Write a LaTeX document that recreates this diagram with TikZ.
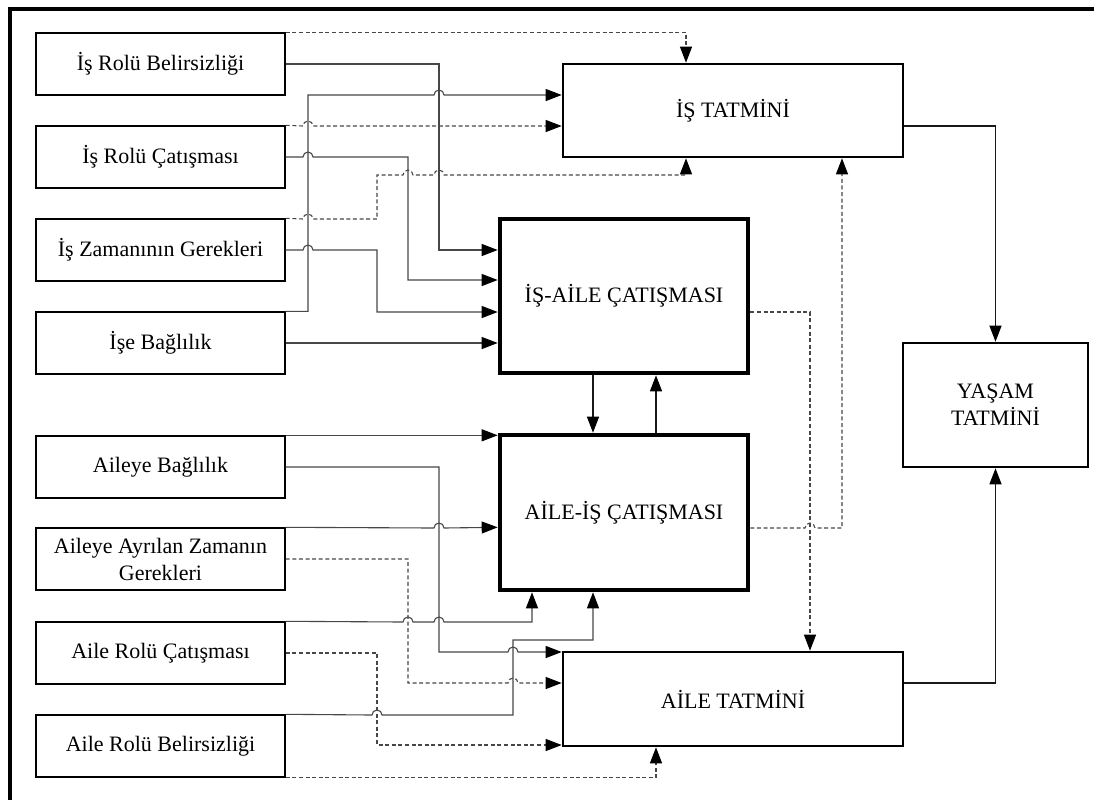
\documentclass[tikz,border=0pt]{standalone}
\usepackage{fontspec}
\setmainfont{Liberation Serif}
\usetikzlibrary{arrows.meta}

\begin{document}
\begin{tikzpicture}[
  x=0.5pt, y=-0.5pt,
  txt/.style={font=\fontsize{11}{13.5}\selectfont, align=center, inner sep=0pt},
  lbox/.style={txt, draw, line width=0.7pt, minimum width=124.5pt, minimum height=31pt},
  sbox/.style={txt, draw, line width=1.3pt},
  cbox/.style={txt, draw, line width=2.3pt},
  ln/.style={draw=black!72, line width=0.55pt},
  dsh/.style={ln, dash pattern=on 2pt off 1.3pt},
  blk/.style={draw=black!90, line width=0.6pt},
  arr/.style={-{Triangle[length=8pt,width=6pt,fill=black,color=black]}}
]
\useasboundingbox (0,0) rectangle (1094,800);

% frame
\draw[line width=2.2pt, line join=miter] (1094,9) -- (10,9) -- (10,800);

% work-side factors
\node[lbox] (w1) at (160.5,64)  {İş Rolü Belirsizliği};
\node[lbox] (w2) at (160.5,157) {İş Rolü Çatışması};
\node[lbox] (w3) at (160.5,250) {İş Zamanının Gerekleri};
\node[lbox] (w4) at (160.5,343) {İşe Bağlılık};

% family-side factors
\node[lbox] (f1) at (160.5,467) {Aileye Bağlılık};
\node[lbox] (f2) at (160.5,559) {Aileye Ayrılan Zamanın\\Gerekleri};
\node[lbox] (f3) at (160.5,653) {Aile Rolü Çatışması};
\node[lbox] (f4) at (160.5,746) {Aile Rolü Belirsizliği};

% outcomes and conflicts
\node[sbox, minimum width=170pt, minimum height=46.5pt] (it)  at (733,110.5) {İŞ TATMİNİ};
\node[cbox, minimum width=124pt, minimum height=77pt]   (iac) at (624,296)   {İŞ-AİLE ÇATIŞMASI};
\node[cbox, minimum width=124pt, minimum height=77.5pt] (aic) at (624,512.5) {AİLE-İŞ ÇATIŞMASI};
\node[sbox, minimum width=170pt, minimum height=47pt]   (at)  at (733,699)   {AİLE TATMİNİ};
\node[sbox, minimum width=92.5pt, minimum height=62pt]  (yt)  at (995.5,405) {YAŞAM\\TATMİNİ};

% ---- work side connectors (line hops have radius 2.5pt = 5 units)
\draw[dsh,arr] (w1.north east) -| (it.north -| 686,0);
\draw[ln,arr] (w1.east) -| (439,250) -- (iac.west |- 0,250);
\draw[ln,arr] (w4.north east) -| (308,95)
  -- (434,95) arc[start angle=180,end angle=0,radius=2.5pt]
  -- (it.west |- 0,95);
\draw[dsh,arr] (w2.north east)
  -- (303,126) arc[start angle=180,end angle=0,radius=2.5pt]
  -- (it.west |- 0,126);
\draw[ln,arr] (w2.east)
  -- (303,157) arc[start angle=180,end angle=0,radius=2.5pt]
  -| (408,280) -- (iac.west |- 0,280);
\draw[dsh,arr] (w3.north east)
  -- (303,219) arc[start angle=180,end angle=0,radius=2.5pt]
  -| (377,175)
  -- (403,175) arc[start angle=180,end angle=0,radius=2.5pt]
  -- (434,175) arc[start angle=180,end angle=0,radius=2.5pt]
  -| (it.south -| 686,0);
\draw[ln,arr] (w3.east)
  -- (303,250) arc[start angle=180,end angle=0,radius=2.5pt]
  -| (377,312) -- (iac.west |- 0,312);
\draw[ln,arr] (w4.east) -- (iac.west |- w4.east);

% ---- between the two conflicts
\draw[blk,arr] (iac.south -| 593,0) -- (aic.north -| 593,0);
\draw[blk,arr] (aic.north -| 656,0) -- (iac.south -| 656,0);

% ---- right side
\draw[blk,arr] (it.east |- 0,126) -| (yt.north);
\draw[blk,arr] (at.east |- 0,683) -| (yt.south);
\draw[dsh,arr] (iac.east |- 0,312) -| (at.north -| 810,0);
\draw[dsh,arr] (aic.east |- 0,528)
  -- (805,528) arc[start angle=180,end angle=0,radius=2.5pt]
  -| (it.south -| 842,0);

% ---- family side connectors
\draw[ln,arr] (f1.north east) -- (aic.west |- f1.north east);
\draw[ln,arr] (f1.east) -| (439,652)
  -- (508,652) arc[start angle=180,end angle=0,radius=2.5pt]
  -- (at.west |- 0,652);
\draw[ln,arr] (f2.north east)
  -- (434,528) arc[start angle=180,end angle=0,radius=2.5pt]
  -- (aic.west |- f2.north east);
\draw[dsh,arr] (f2.east) -| (408,683)
  -- (508,683) arc[start angle=180,end angle=0,radius=2.5pt]
  -- (at.west |- 0,683);
\draw[ln,arr] (f3.north east)
  -- (403,622) arc[start angle=180,end angle=0,radius=2.5pt]
  -- (434,622) arc[start angle=180,end angle=0,radius=2.5pt]
  -| (aic.south -| 532,0);
\draw[dsh,arr] (f3.east) -| (377,745) -- (at.west |- 0,745);
\draw[ln,arr] (f4.north east)
  -- (372,715) arc[start angle=180,end angle=0,radius=2.5pt]
  -| (513,640) -| (aic.south -| 593,0);
\draw[dsh,arr] (f4.south east) -| (at.south -| 656,0);
\end{tikzpicture}
\end{document}
